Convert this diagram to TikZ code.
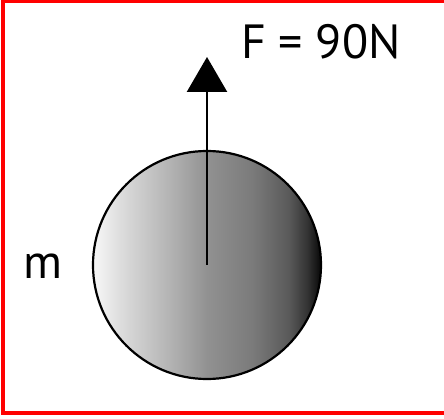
\documentclass[tikz,border=0pt]{standalone}
\usepackage{fontspec}
\setmainfont{PT Sans}
\usetikzlibrary{arrows.meta}
\definecolor{frame}{RGB}{255,0,0}
\pgfdeclarehorizontalshading{ballshade}{100bp}{
  color(0bp)=(white!97!black);
  color(25bp)=(white!97!black);
  color(32bp)=(black!15);
  color(42bp)=(black!30);
  color(50bp)=(black!43);
  color(60bp)=(black!52);
  color(68bp)=(black!65);
  color(72bp)=(black!80);
  color(75bp)=(black!97);
  color(100bp)=(black!97)}
\tikzset{
  lbl/.style={inner sep=0pt, font=\fontsize{48}{52}\selectfont},
  ballstyle/.style={circle, draw=black, line width=2.2pt, minimum size=228pt, inner sep=0pt, shading=ballshade},
  force/.style={line width=2.4pt, -{Triangle[width=40pt,length=35pt]}}
}
\begin{document}
\begin{tikzpicture}[x=1pt,y=-1pt]
\useasboundingbox (0,0) rectangle (444,419);
\begin{scope}
\clip (0,0) rectangle (444,419);
\draw[frame, line width=4pt] (3,1) rectangle (450,413);
\end{scope}
\node[ballstyle] (ball) at (207,265) {};
\coordinate (tip) at (207,57);
\draw[force] (ball.center) -- (tip);
\node[lbl, anchor=base west] (F) at (241,59) {F = 90N};
\node[lbl, anchor=base west] (m) at (23,279) {m};
\end{tikzpicture}
\end{document}
